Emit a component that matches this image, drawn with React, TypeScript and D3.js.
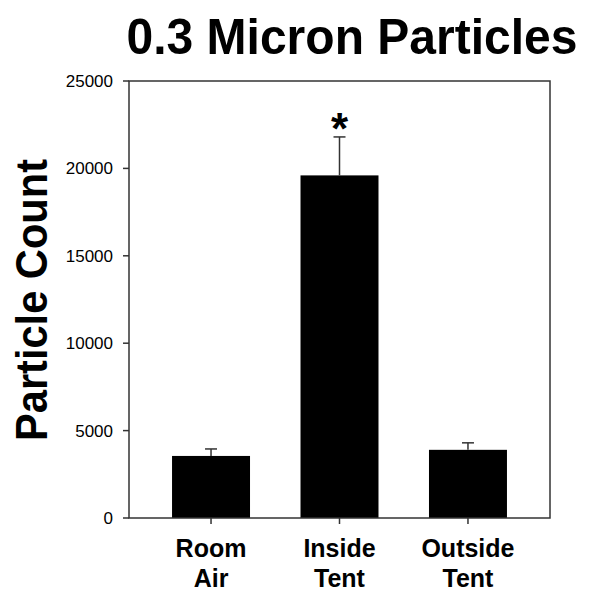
import React from "react";
import * as d3 from "d3";

const categories = ["Room Air", "Inside Tent", "Outside Tent"];
const labelLines = [["Room", "Air"], ["Inside", "Tent"], ["Outside", "Tent"]];
const means = [3550, 19600, 3900];
const errors = [400, 2200, 400];
const significant = [false, true, false];
const yTicks = [0, 5000, 10000, 15000, 20000, 25000];

export default function App() {
  const W = 600, H = 600;
  const left = 129, right = 550, top = 81, bottom = 518;
  const x = d3.scaleBand().domain(categories).range([left, right]).paddingInner(0.393).paddingOuter(0.335);
  const y = d3.scaleLinear().domain([0, 25000]).range([bottom, top]);
  const font = "'Liberation Sans', Arial, sans-serif";
  return (
    <svg width={W} height={H} style={{ position: "absolute", left: 0, top: 0, background: "#fff" }}>
      <rect x={0} y={0} width={W} height={H} fill="#fff" />
      <text x={352} y={54} textAnchor="middle" fontFamily={font} fontWeight="bold" fontSize={50} textLength={451} lengthAdjust="spacingAndGlyphs">0.3 Micron Particles</text>
      <text transform={`translate(47,300) rotate(-90)`} textAnchor="middle" fontFamily={font} fontWeight="bold" fontSize={44} textLength={282} lengthAdjust="spacingAndGlyphs">Particle Count</text>
      {categories.map((c, i) => {
        const bx = x(c)!;
        const bw = x.bandwidth();
        const cx = bx + bw / 2;
        return (
          <g key={c}>
            <rect x={bx} y={y(means[i])} width={bw} height={bottom - y(means[i])} fill="#000" />
            <line x1={cx} x2={cx} y1={y(means[i])} y2={y(means[i] + errors[i])} stroke="#333" strokeWidth={1.5} />
            <line x1={cx - 6} x2={cx + 6} y1={y(means[i] + errors[i])} y2={y(means[i] + errors[i])} stroke="#333" strokeWidth={1.5} />
            {significant[i] && (
              <text x={cx} y={y(means[i] + errors[i]) + 7} textAnchor="middle" fontFamily={font} fontWeight="bold" fontSize={44}>*</text>
            )}
            <line x1={cx} x2={cx} y1={bottom} y2={bottom + 6} stroke="#333" strokeWidth={1.5} />
            {labelLines[i].map((t, j) => (
              <text key={j} x={cx} y={557 + j * 30} textAnchor="middle" fontFamily={font} fontWeight="bold" fontSize={25}>{t}</text>
            ))}
          </g>
        );
      })}
      <rect x={left} y={top} width={right - left} height={bottom - top} fill="none" stroke="#333" strokeWidth={1.5} />
      {yTicks.map((t) => (
        <g key={t}>
          <line x1={left - 6} x2={left} y1={y(t)} y2={y(t)} stroke="#333" strokeWidth={1.5} />
          <text x={113} y={y(t) + 6} textAnchor="end" fontFamily={font} fontSize={17}>{t}</text>
        </g>
      ))}
    </svg>
  );
}
